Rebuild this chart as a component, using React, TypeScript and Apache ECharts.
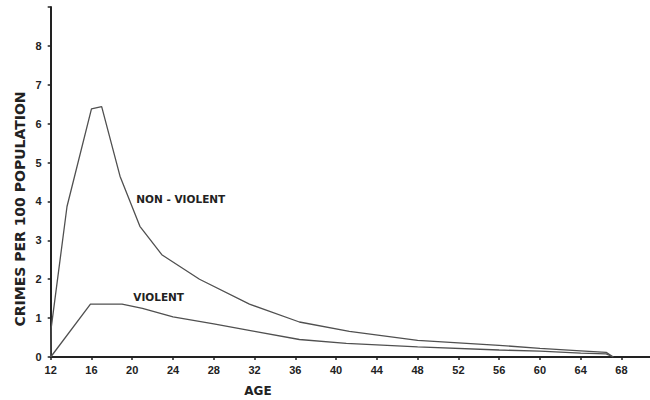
import React, { useEffect, useRef } from "react";
import * as echarts from "echarts";

const nonViolentAges = [12, 12.05, 13.6, 16, 17, 18.8, 20.75, 22.9, 26.6, 31.5, 36.4, 41.3, 48, 56, 60, 64, 66.5, 67.2];
const nonViolentRates = [0, 0.75, 3.87, 6.38, 6.44, 4.65, 3.36, 2.63, 2.0, 1.36, 0.9, 0.66, 0.43, 0.3, 0.22, 0.16, 0.12, 0];

const violentAges = [12, 15.9, 19, 21, 24, 28, 32, 36.4, 41, 48, 56, 60, 64, 66.5, 67.2];
const violentRates = [0, 1.36, 1.36, 1.25, 1.03, 0.85, 0.66, 0.45, 0.35, 0.26, 0.18, 0.15, 0.1, 0.08, 0];

const yTickLabels = ["0", "1", "2", "3", "4", "5", "6", "7", "8"];
const xTickLabels = ["12", "16", "20", "24", "28", "32", "36", "40", "44", "48", "52", "56", "60", "64", "68"];

const seriesNames = ["NON - VIOLENT", "VIOLENT"];
const yTitle = "CRIMES PER 100 POPULATION";
const xTitle = "AGE";

export default function App() {
  const ref = useRef<HTMLDivElement>(null);
  useEffect(() => {
    if (!ref.current) return;
    const chart = echarts.init(ref.current, null, { renderer: "svg" });
    const zip = (a: number[], b: number[]) => a.map((x, i) => [x, b[i]]);
    const lineColor = "#505050";
    const textColor = "#222";
    const seriesLabel = (text: string) => ({
      show: true,
      position: "right",
      distance: 0,
      formatter: text,
      color: textColor,
      fontFamily: "DejaVu Sans",
      fontWeight: "bold",
      fontSize: 10.5,
    });
    chart.setOption({
      animation: false,
      backgroundColor: "#fff",
      grid: { left: 50.7, right: 0, top: 7, bottom: 43, containLabel: false },
      xAxis: {
        type: "value",
        min: 12,
        max: 70.8,
        interval: 4,
        axisLine: { show: true, onZero: false, lineStyle: { color: "#222", width: 2 } },
        axisTick: { show: true, length: 3, lineStyle: { color: "#222", width: 1.5 } },
        splitLine: { show: false },
        axisLabel: {
          margin: 7,
          color: textColor,
          fontFamily: "Liberation Sans",
          fontWeight: "bold",
          fontSize: 11,
          showMaxLabel: false,
          formatter: (v: number) => (xTickLabels.includes(String(v)) ? String(v) : ""),
        },
      },
      yAxis: {
        type: "value",
        min: 0,
        max: 9,
        interval: 1,
        axisLine: { show: true, lineStyle: { color: "#222", width: 2 } },
        axisTick: { show: true, length: 3, lineStyle: { color: "#222", width: 1.5 } },
        splitLine: { show: false },
        axisLabel: {
          margin: 9,
          color: textColor,
          fontFamily: "Liberation Sans",
          fontWeight: "bold",
          fontSize: 11,
          formatter: (v: number) => (yTickLabels.includes(String(v)) ? String(v) : ""),
        },
      },
      series: [
        {
          name: seriesNames[0],
          type: "line",
          data: zip(nonViolentAges, nonViolentRates),
          symbol: "none",
          lineStyle: { color: lineColor, width: 1.3 },
          markPoint: {
            symbol: "circle",
            symbolSize: 0,
            data: [{ coord: [20.4, 4.07], value: seriesNames[0] }],
            label: seriesLabel(seriesNames[0]),
          },
        },
        {
          name: seriesNames[1],
          type: "line",
          data: zip(violentAges, violentRates),
          symbol: "none",
          lineStyle: { color: lineColor, width: 1.3 },
          markPoint: {
            symbol: "circle",
            symbolSize: 0,
            data: [{ coord: [20.1, 1.55], value: seriesNames[1] }],
            label: seriesLabel(seriesNames[1]),
          },
        },
      ],
      graphic: [
        {
          type: "text",
          x: 20,
          y: 209,
          rotation: Math.PI / 2,
          style: {
            text: yTitle,
            fill: textColor,
            font: "bold 14px 'DejaVu Sans'",
            align: "center",
            verticalAlign: "middle",
          },
        },
        {
          type: "text",
          x: 258,
          y: 391,
          style: {
            text: xTitle,
            fill: textColor,
            font: "bold 12px 'DejaVu Sans'",
            align: "center",
            verticalAlign: "middle",
          },
        },
      ],
    });
    return () => chart.dispose();
  }, []);
  return (
    <div
      ref={ref}
      style={{ position: "fixed", left: 0, top: 0, width: 650, height: 400, background: "#fff" }}
    />
  );
}
